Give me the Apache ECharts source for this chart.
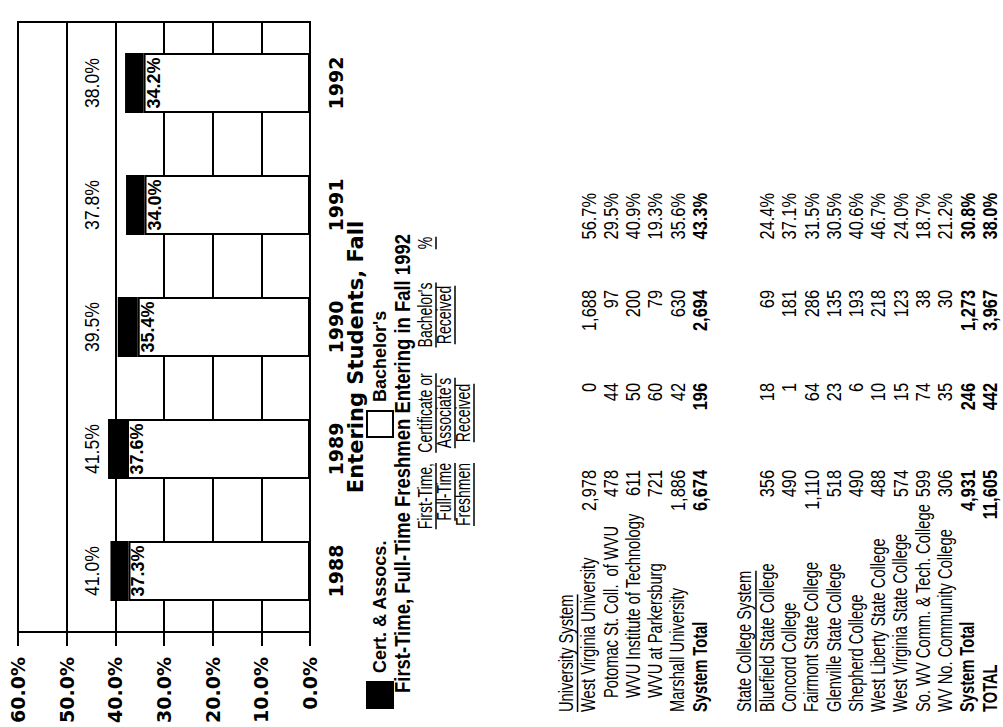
<!DOCTYPE html>
<html>
<head>
<meta charset="utf-8">
<script src="https://cdn.jsdelivr.net/npm/echarts@6/dist/echarts.min.js"></script>
<style>
  html, body { margin: 0; padding: 0; background: #fff; width: 1003px; height: 727px; overflow: hidden; }
  /* The page is laid out upright (727 x 1003) and turned a quarter turn for landscape display */
  #page { position: absolute; left: 0; top: 0; width: 727px; height: 1003px;
          transform-origin: 0 0; transform: translate(0, 727px) rotate(-90deg); background: #fff; }
</style>
</head>
<body>
<div id="page"></div>
<script>
// ---- Chart data: share of entering freshmen who received a degree ----
const years = ['1988', '1989', '1990', '1991', '1992'];
const bachelorsPct = [37.3, 37.6, 35.4, 34.0, 34.2];   // Bachelor's
const totalPct     = [41.0, 41.5, 39.5, 37.8, 38.0];   // Bachelor's + Cert. & Assocs.
const valueTicks = [0, 10, 20, 30, 40, 50, 60];

// ---- Table: first-time, full-time freshmen entering in fall 1992 ----
const univNames = ['West Virginia University', 'Potomac St. Coll.  of WVU', 'WVU Institute of Technology',
                   'WVU at Parkersburg', 'Marshall University'];
const univFreshmen  = [2978, 478, 611, 721, 1886];
const univCertAssoc = [0, 44, 50, 60, 42];
const univBachelors = [1688, 97, 200, 79, 630];
const univPct       = [56.7, 29.5, 40.9, 19.3, 35.6];
const univTotal     = [6674, 196, 2694, 43.3];

const stateNames = ['Bluefield State College', 'Concord College', 'Fairmont State College', 'Glenville State College',
                    'Shepherd College', 'West Liberty State College', 'West Virginia State College',
                    'So. WV Comm. & Tech. College', 'WV No. Community College'];
const stateFreshmen  = [356, 490, 1110, 518, 490, 488, 574, 599, 306];
const stateCertAssoc = [18, 1, 64, 23, 6, 10, 15, 74, 35];
const stateBachelors = [69, 181, 286, 135, 193, 218, 123, 38, 30];
const statePct       = [24.4, 37.1, 31.5, 30.5, 40.6, 46.7, 24.0, 18.7, 21.2];
const stateTotal     = [4931, 246, 1273, 30.8];

const grandTotal = [11605, 442, 3967, 38.0];

const headers = [
  ['First-Time,', 'Full-Time', 'Freshmen'],
  ['Certificate or', "Associate's", 'Received'],
  ["Bachelor's", 'Received'],
  ['%']
];

// ---- Fonts ----
// condensed faces are imitated by squeezing Liberation Sans horizontally
const SANS = "'Liberation Sans',Arial,sans-serif";
const WIDE = "'DejaVu Sans','Liberation Sans',sans-serif";
const SQUEEZE = 0.7;
const NUM_SQUEEZE = 0.78;

const certPct = totalPct.map((t, i) => Math.round((t - bachelorsPct[i]) * 10) / 10);

const measureCtx = document.createElement('canvas').getContext('2d');
function textWidth(text, font) { measureCtx.font = font; return measureCtx.measureText(text).width; }

const fmtInt = n => n.toLocaleString('en-US');
const fmtPct = p => p.toFixed(1) + '%';

// ---- Table layout (page coordinates) ----
const LABEL_X = 15, INDENT_X = 29;
const COL_RIGHT = [257, 344, 437, 534];
const HEADER_Y = [425, 444, 463];
const HEADER_ANCHOR = [{ x: 264, align: 'right' }, { x: 314, align: 'center' }, { x: 412, align: 'center' }, { x: 484, align: 'center' }];
const ROW_STEP = 22.3;
const UNIV_HEAD_Y = 566;
const STATE_HEAD_Y = UNIV_HEAD_Y + ROW_STEP * 8;
const indented = new Set(['Potomac St. Coll.  of WVU', 'WVU Institute of Technology', 'WVU at Parkersburg']);

const TABLE_FONT = 21;
const graphics = [];

function addText(str, x, y, opts) {
  opts = opts || {};
  const size = opts.size || TABLE_FONT;
  const weight = opts.bold ? 'bold' : 'normal';
  const family = opts.family || SANS;
  const align = opts.align || 'left';
  const sx = opts.scale === undefined ? SQUEEZE : opts.scale;
  const font = weight + ' ' + size + 'px ' + family;
  graphics.push({
    type: 'text', x: x, y: y, scaleX: sx, silent: true,
    style: { text: str, fill: '#000', font: font, align: align, verticalAlign: 'middle' }
  });
  if (opts.underline) {
    const w = textWidth(str, font) * sx;
    let x0 = x;
    if (align === 'right') x0 = x - w; else if (align === 'center') x0 = x - w / 2;
    const uy = y + size * 0.55;
    graphics.push({ type: 'line', silent: true, shape: { x1: x0, y1: uy, x2: x0 + w, y2: uy }, style: { stroke: '#000', lineWidth: 1.5 } });
  }
}

function addRow(name, values, y, bold) {
  addText(name, indented.has(name) ? INDENT_X : LABEL_X, y, { bold: bold });
  values.forEach((v, c) => {
    const s = c === 3 ? fmtPct(v) : fmtInt(v);
    addText(s, COL_RIGHT[c], y, { bold: bold, align: 'right', scale: NUM_SQUEEZE });
  });
}

// title
addText('First-Time, Full-Time Freshmen Entering in Fall 1992', 34, 402, { bold: true, size: 22, scale: 0.84 });

// column headings
headers.forEach((lines, c) => {
  lines.forEach((line, r) => addText(line, HEADER_ANCHOR[c].x, HEADER_Y[r], { size: 20, align: HEADER_ANCHOR[c].align, underline: true }));
});

// University System block
addText('University System', LABEL_X, UNIV_HEAD_Y, { underline: true });
univNames.forEach((n, i) => addRow(n, [univFreshmen[i], univCertAssoc[i], univBachelors[i], univPct[i]], UNIV_HEAD_Y + ROW_STEP * (i + 1), false));
addRow('System Total', univTotal, UNIV_HEAD_Y + ROW_STEP * (univNames.length + 1), true);

// State College System block
addText('State College System', LABEL_X, STATE_HEAD_Y, { underline: true });
stateNames.forEach((n, i) => addRow(n, [stateFreshmen[i], stateCertAssoc[i], stateBachelors[i], statePct[i]], STATE_HEAD_Y + ROW_STEP * (i + 1), false));
addRow('System Total', stateTotal, STATE_HEAD_Y + ROW_STEP * (stateNames.length + 1), true);
addRow('TOTAL', grandTotal, STATE_HEAD_Y + ROW_STEP * (stateNames.length + 2), true);

// axis title under the years
addText('Entering Students, Fall', 370, 356, { bold: true, size: 21, family: WIDE, align: 'center', scale: 1 });

const TOTAL_LABEL_LEVEL = 44.9;

const chart = echarts.init(document.getElementById('page'), null, { renderer: 'svg', width: 727, height: 1003 });
chart.setOption({
  animation: false,
  backgroundColor: '#fff',
  legend: {
    left: 13, top: 361, itemWidth: 26, itemHeight: 26, itemGap: 102, icon: 'rect',
    textStyle: { fontFamily: SANS, fontWeight: 'bold', fontSize: 18, color: '#000', padding: [0, 0, 0, 4] },
    data: ['Cert. & Assocs.', "Bachelor's"]
  },
  grid: { left: 95, right: 22, top: 18, bottom: 693, show: true, borderColor: '#000', borderWidth: 2, backgroundColor: 'transparent' },
  xAxis: {
    type: 'category', data: years,
    axisLine: { lineStyle: { color: '#000', width: 2 } },
    axisTick: { alignWithLabel: true, length: 10, lineStyle: { color: '#000', width: 2 } },
    axisLabel: { margin: 16, fontFamily: WIDE, fontWeight: 'bold', fontSize: 19, color: '#000' }
  },
  yAxis: {
    type: 'value', min: valueTicks[0], max: valueTicks[valueTicks.length - 1], interval: 10,
    axisLine: { show: true, lineStyle: { color: '#000', width: 2 } },
    axisTick: { show: true, length: 14, lineStyle: { color: '#000', width: 2 } },
    splitLine: { lineStyle: { color: '#000', width: 2 } },
    axisLabel: { margin: 25, fontFamily: WIDE, fontWeight: 'bold', fontSize: 19, color: '#000', formatter: v => v.toFixed(1) + '%' }
  },
  series: [
    {
      name: "Bachelor's", type: 'bar', stack: 'deg', barWidth: 60, data: bachelorsPct,
      itemStyle: { color: '#fff', borderColor: '#000', borderWidth: 2 },
      label: { show: true, position: 'insideTop', distance: 1, fontFamily: SANS, fontWeight: 'bold', fontSize: 18, color: '#000', formatter: p => fmtPct(p.value) }
    },
    {
      name: 'Cert. & Assocs.', type: 'bar', stack: 'deg', barWidth: 60, data: certPct,
      itemStyle: { color: '#000', borderColor: '#000', borderWidth: 2 }
    },
    {
      name: 'total', type: 'custom', data: years.map((y, i) => [i, totalPct[i]]), encode: { x: 0, y: 1 },
      silent: true, z: 5,
      renderItem: (params, api) => {
        const p = api.coord([api.value(0), TOTAL_LABEL_LEVEL]);
        return { type: 'text', x: p[0], y: p[1], scaleX: 0.84,
          style: { text: fmtPct(api.value(1)), x: 0, y: 0, align: 'center', verticalAlign: 'middle',
            font: 'normal 21px ' + SANS, fill: '#000' } };
      }
    }
  ],
  graphic: graphics
});
</script>
</body>
</html>
